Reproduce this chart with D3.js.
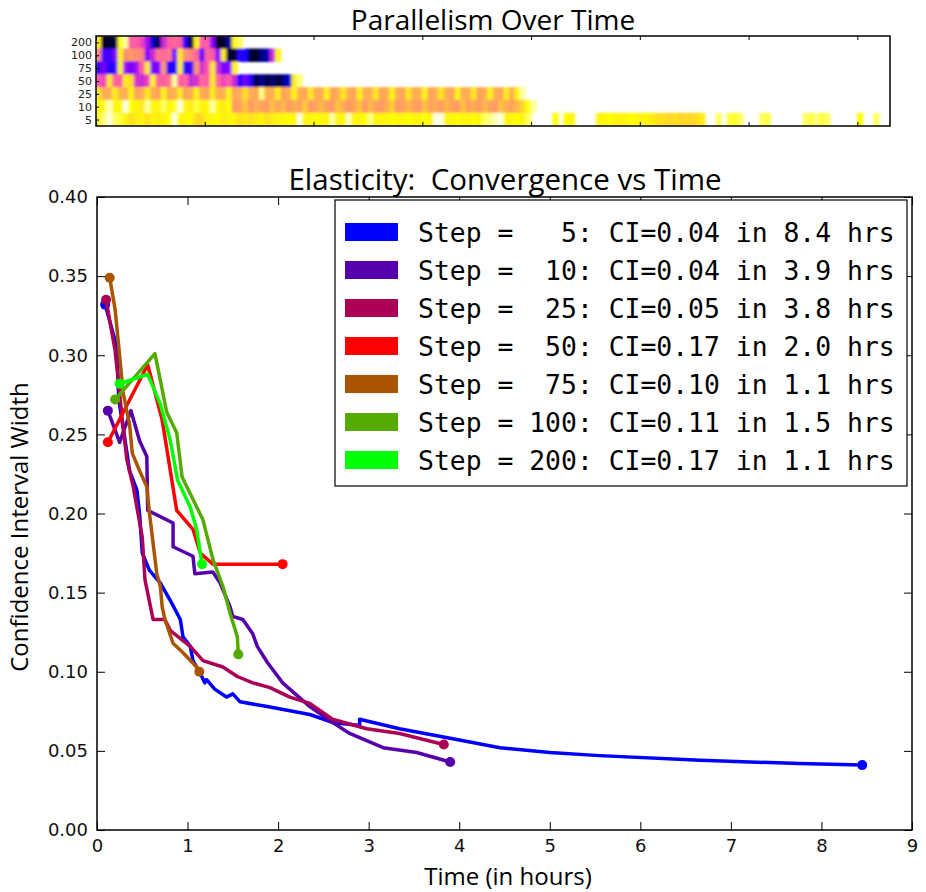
<!DOCTYPE html>
<html>
<head>
<meta charset="utf-8">
<style>
body { margin: 0; background: #fff; }
svg { display: block; }
.tick text { font-family: "DejaVu Sans", sans-serif; }
</style>
</head>
<body>
<svg id="chart" width="926" height="892"></svg>
<script src="https://d3js.org/d3.v7.min.js"></script>
<script>
'use strict';

// ---- legend / series info ----
var steps = [5, 10, 25, 50, 75, 100, 200];
var finalCI = [0.04, 0.04, 0.05, 0.17, 0.10, 0.11, 0.17];
var finalHours = [8.4, 3.9, 3.8, 2.0, 1.1, 1.5, 1.1];
var colors = ["#0000ff", "#5500aa", "#aa0055", "#ff0000", "#aa5500", "#55aa00", "#00ff00"];

// ---- convergence curves: [hours, CI width] ----
var step5 = [[0.09,0.332],[0.22,0.305],[0.24,0.272],[0.30,0.250],[0.36,0.227],[0.44,0.215],[0.47,0.200],[0.50,0.175],
  [0.58,0.164],[0.70,0.156],[0.81,0.145],[0.92,0.133],[0.95,0.122],[1.03,0.116],[1.06,0.107],[1.14,0.099],[1.19,0.093],
  [1.21,0.095],[1.30,0.089],[1.43,0.084],[1.50,0.086],[1.58,0.081],[1.88,0.078],[2.16,0.075],[2.35,0.073],[2.60,0.068],
  [2.90,0.066],[2.90,0.070],[3.34,0.064],[3.90,0.058],[4.45,0.052],[5.00,0.049],[5.55,0.047],[6.66,0.044],[7.76,0.042],[8.45,0.041]];
var step10 = [[0.12,0.265],[0.25,0.245],[0.375,0.265],[0.47,0.246],[0.55,0.236],[0.56,0.202],[0.84,0.194],[0.84,0.179],
  [1.06,0.173],[1.08,0.162],[1.28,0.163],[1.36,0.156],[1.47,0.141],[1.50,0.135],[1.61,0.133],[1.72,0.124],[1.77,0.116],
  [1.88,0.106],[2.05,0.093],[2.35,0.078],[2.60,0.068],[2.79,0.061],[3.16,0.052],[3.53,0.049],[3.90,0.043]];
var step25 = [[0.10,0.335],[0.20,0.303],[0.28,0.259],[0.33,0.234],[0.40,0.217],[0.50,0.185],[0.53,0.158],[0.62,0.133],
  [0.75,0.133],[0.81,0.126],[1.03,0.116],[1.17,0.107],[1.39,0.103],[1.55,0.097],[1.72,0.093],[1.91,0.090],[2.13,0.084],
  [2.35,0.080],[2.60,0.070],[2.98,0.064],[3.34,0.061],[3.83,0.054]];
var step50 = [[0.12,0.245],[0.56,0.294],[0.72,0.259],[0.88,0.202],[1.06,0.190],[1.14,0.175],[1.28,0.168],[2.05,0.168]];
var step75 = [[0.14,0.349],[0.20,0.329],[0.29,0.276],[0.36,0.256],[0.39,0.238],[0.47,0.227],[0.55,0.217],[0.58,0.200],
  [0.66,0.162],[0.70,0.154],[0.72,0.141],[0.75,0.133],[0.84,0.118],[0.95,0.112],[1.10,0.103],[1.13,0.100]];
var step100 = [[0.20,0.272],[0.64,0.301],[0.77,0.264],[0.88,0.251],[0.94,0.223],[1.17,0.196],[1.28,0.171],[1.39,0.154],
  [1.47,0.137],[1.55,0.122],[1.56,0.111]];
var step200 = [[0.25,0.282],[0.56,0.288],[0.70,0.269],[0.81,0.246],[0.89,0.221],[1.03,0.204],[1.10,0.190],[1.16,0.168]];
var curves = [step5, step10, step25, step50, step75, step100, step200];

var xTicks = [0, 1, 2, 3, 4, 5, 6, 7, 8, 9];
var yTicks = [0, 0.05, 0.10, 0.15, 0.20, 0.25, 0.30, 0.35, 0.40];

// ---- parallelism heatmap rows (normalised value per time slot, null = idle) ----
var heatRows = ["200", "100", "75", "50", "25", "10", "5"];
var par200 = [0.88,0.04,0.04,0.06,0.93,0.97,0.6,0.6,0.55,0.45,0.2,0.1,0.5,0.6,0.62,0.6,0.3,0.06,0.9,0.6,0.6,0.42,0.04,0.04,0.15,0.9,0.95];
var par100 = [0.68,0.35,0.32,0.4,0.9,0.7,0.72,0.7,0.68,0.42,0.5,0.65,0.62,0.66,0.4,0.88,0.7,0.68,0.62,0.38,0.62,0.6,0.42,0.88,
  0.06,0.04,0.3,0.28,0.05,0.04,0.12,0.18,0.5,0.9];
var par75 = [0.3,0.4,0.3,0.32,0.9,0.45,0.4,0.45,0.6,0.88,0.4,0.42,0.72,0.3,0.3,0.9,0.3,0.32,0.72,0.52,0.58,0.88,0.5,0.4,0.42,0.9];
var par50 = [0.58,0.55,0.88,0.62,0.6,0.88,0.85,0.52,0.5,0.55,0.9,0.62,0.6,0.65,0.97,0.6,0.62,0.5,0.52,0.62,0.6,0.88,0.62,0.55,
  0.6,0.5,0.3,0.4,0.3,0.05,0.15,0.06,0.12,0.05,0.14,0.2,0.9,0.96];
var par25 = [0.86,0.76,0.76,0.88,0.78,0.76,0.9,0.74,0.76,0.88,0.76,0.74,0.9,0.76,0.76,0.88,0.74,0.76,0.9,0.76,0.74,0.88,0.76,0.76,
  0.9,0.74,0.76,0.86,0.76,0.74,0.96,0.76,0.76,0.88,0.74,0.76,0.9,0.76,0.74,0.88,0.76,0.76,0.9,0.74,0.76,0.88,0.76,0.74,0.9,
  0.76,0.76,0.88,0.74,0.76,0.9,0.76,0.74,0.88,0.76,0.76,0.9,0.74,0.76,0.88,0.76,0.74,0.9,0.76,0.76,0.88,0.74,0.76,0.9,0.76,
  0.74,0.88,0.76,0.9,0.97];
var par10 = [0.9,0.93,0.98,0.9,0.9,0.99,0.92,0.9,0.88,0.97,0.9,0.9,0.95,0.9,0.93,0.99,0.9,0.88,0.94,0.9,0.9,0.97,0.9,0.88,0.92,
  0.72,0.74,0.8,0.72,0.76,0.74,0.72,0.8,0.74,0.78,0.72,0.76,0.74,0.82,0.72,0.74,0.78,0.74,0.72,0.8,0.76,0.72,0.74,0.8,0.72,
  0.78,0.74,0.72,0.76,0.82,0.72,0.74,0.78,0.74,0.72,0.8,0.74,0.76,0.72,0.78,0.74,0.72,0.8,0.74,0.76,0.72,0.78,0.74,0.72,0.8,
  0.76,0.74,0.78,0.84,0.92,0.97];
var par5 = [0.9,0.96,0.99,0.95,0.94,0.9,0.86,0.88,0.9,0.86,0.9,0.88,0.9,0.92,0.99,0.9,0.9,0.92,0.84,0.85,0.9,0.9,0.92,0.88,
  0.9,0.9,0.86,0.88,0.86,0.88,0.9,0.86,0.88,0.9,0.9,0.92,0.9,0.99,0.9,0.9,0.92,0.9,0.9,0.97,0.9,0.9,0.98,0.9,0.9,0.92,0.96,
  0.9,0.9,0.9,0.92,0.9,0.9,0.92,0.9,0.9,0.92,0.9,0.99,0.99,0.9,0.9,0.92,0.9,0.9,0.92,0.9,0.95,0.96,0.98,0.99,0.9,0.9,0.92,
  0.9,0.95,null,null,null,null,0.92,null,0.92,0.9,null,null,null,null,0.9,0.9,0.92,0.9,0.9,0.9,0.92,0.9,0.9,0.9,0.88,0.86,
  0.86,0.84,0.86,0.84,0.85,0.84,0.86,0.88,null,null,0.95,null,0.94,0.93,0.95,null,null,null,0.95,0.94,null,null,null,null,
  null,null,0.95,0.94,0.96,0.94,0.95,null,null,null,null,null,0.92,null,null,0.95,null];
var heatValues = [par200, par100, par75, par50, par25, par10, par5];
var heatSlots = 146;

// matplotlib gnuplot2 colormap
function gnuplot2(v) {
  var r = Math.max(0, Math.min(1, v / 0.32 - 0.78125));
  var g = Math.max(0, Math.min(1, 2 * v - 0.84));
  var b = v < 0.25 ? 4 * v : v < 0.42 ? 1 : v < 0.92 ? -2 * v + 1.84 : v / 0.08 - 11.5;
  b = Math.max(0, Math.min(1, b));
  return d3.rgb(r * 255, g * 255, b * 255).toString();
}

var svg = d3.select("#chart");

// ================= top: parallelism heatmap =================
var hx = d3.scaleLinear().domain([0, heatSlots]).range([96, 890]);
var hy = d3.scaleBand().domain(heatRows).range([36, 126]);

var defs = svg.append("defs");
defs.append("clipPath").attr("id", "heatclip")
  .append("rect").attr("x", 96).attr("y", 36).attr("width", 794).attr("height", 90);
defs.append("filter").attr("id", "soft")
  .append("feGaussianBlur").attr("stdDeviation", "1.4 0.8");

var heat = svg.append("g").attr("clip-path", "url(#heatclip)")
  .append("g").attr("filter", "url(#soft)");

heatValues.forEach(function(row, r) {
  heat.selectAll(null)
    .data(row.map(function(v, i) { return {i: i, v: v}; }).filter(function(d) { return d.v !== null; }))
    .enter().append("rect")
      .attr("x", function(d) { return hx(d.i) - 0.3; })
      .attr("y", hy(heatRows[r]) - 0.3)
      .attr("width", hx(1) - hx(0) + 0.6)
      .attr("height", hy.bandwidth() + 0.6)
      .attr("fill", function(d) { return gnuplot2(d.v); });
});

svg.append("g")
  .attr("transform", "translate(0,126)")
  .call(d3.axisBottom(hx).tickValues(d3.range(0, heatSlots, 20)).tickSizeInner(-4).tickSizeOuter(0).tickFormat(""))
  .call(function(g) { g.select(".domain").remove(); });
svg.append("g")
  .attr("transform", "translate(0,36)")
  .call(d3.axisTop(hx).tickValues(d3.range(0, heatSlots, 20)).tickSizeInner(-4).tickSizeOuter(0).tickFormat(""))
  .call(function(g) { g.select(".domain").remove(); });

var hyAxis = svg.append("g")
  .attr("transform", "translate(96,0)")
  .call(d3.axisLeft(d3.scalePoint().domain(heatRows).range([hy("200") + hy.bandwidth() / 2, hy("5") + hy.bandwidth() / 2]))
    .tickSizeInner(-3).tickSizeOuter(0).tickPadding(4));
hyAxis.select(".domain").remove();
hyAxis.selectAll("text").attr("font-size", 11).attr("fill", "#222");

svg.append("rect")
  .attr("x", 96).attr("y", 36).attr("width", 794).attr("height", 90)
  .attr("fill", "none").attr("stroke", "#000").attr("stroke-width", 1.5);

svg.append("text")
  .attr("x", 493).attr("y", 30)
  .attr("text-anchor", "middle")
  .attr("font-family", "Open Sans, sans-serif")
  .attr("font-size", 28)
  .text("Parallelism Over Time");

// ================= main: convergence chart =================
var margin = {top: 197, left: 97, right: 912, bottom: 830};
var x = d3.scaleLinear().domain([0, 9]).range([margin.left, margin.right]);
var y = d3.scaleLinear().domain([0, 0.4]).range([margin.bottom, margin.top]);

function ax(g) { g.select(".domain").remove(); g.selectAll("line").attr("stroke", "#000"); }

svg.append("g").attr("transform", "translate(0," + margin.bottom + ")")
  .call(d3.axisBottom(x).tickValues(xTicks).tickSizeInner(-8).tickSizeOuter(0).tickPadding(9).tickFormat(d3.format("d")))
  .call(ax)
  .selectAll("text").attr("font-size", 18).attr("fill", "#111");
svg.append("g").attr("transform", "translate(0," + margin.top + ")")
  .call(d3.axisTop(x).tickValues(xTicks).tickSizeInner(-8).tickSizeOuter(0).tickFormat(""))
  .call(ax);
svg.append("g").attr("transform", "translate(" + margin.left + ",0)")
  .call(d3.axisLeft(y).tickValues(yTicks).tickSizeInner(-8).tickSizeOuter(0).tickPadding(9).tickFormat(d3.format(".2f")))
  .call(ax)
  .selectAll("text").attr("font-size", 18).attr("fill", "#111");
svg.append("g").attr("transform", "translate(" + margin.right + ",0)")
  .call(d3.axisRight(y).tickValues(yTicks).tickSizeInner(-8).tickSizeOuter(0).tickFormat(""))
  .call(ax);

var line = d3.line()
  .x(function(d) { return x(d[0]); })
  .y(function(d) { return y(d[1]); });

var series = svg.append("g").selectAll("g")
  .data(curves)
  .enter().append("g");

series.append("path")
  .attr("d", line)
  .attr("fill", "none")
  .attr("stroke", function(d, i) { return colors[i]; })
  .attr("stroke-width", 3.5)
  .attr("stroke-linejoin", "round");

series.selectAll("circle")
  .data(function(d, i) { return [d[0], d[d.length - 1]].map(function(p) { return {p: p, c: colors[i]}; }); })
  .enter().append("circle")
    .attr("cx", function(d) { return x(d.p[0]); })
    .attr("cy", function(d) { return y(d.p[1]); })
    .attr("r", 5)
    .attr("fill", function(d) { return d.c; });

svg.append("rect")
  .attr("x", margin.left).attr("y", margin.top)
  .attr("width", margin.right - margin.left).attr("height", margin.bottom - margin.top)
  .attr("fill", "none").attr("stroke", "#000").attr("stroke-width", 1.5);

// legend
var legend = svg.append("g");
legend.append("rect")
  .attr("x", 335).attr("y", 200).attr("width", 572).attr("height", 286)
  .attr("fill", "#fff").attr("stroke", "#000").attr("stroke-width", 1.2);

var item = legend.selectAll("g")
  .data(steps)
  .enter().append("g")
    .attr("transform", function(d, i) { return "translate(0," + (232 + i * 38) + ")"; });

item.append("rect")
  .attr("x", 345).attr("y", -9).attr("width", 53).attr("height", 18)
  .attr("fill", function(d, i) { return colors[i]; });

item.append("text")
  .attr("x", 418).attr("dy", "0.36em")
  .attr("font-family", "DejaVu Sans Mono, monospace")
  .attr("font-size", 26.4)
  .style("white-space", "pre")
  .text(function(d, i) {
    var s = ("   " + d).slice(-3);
    return "Step = " + s + ": CI=" + finalCI[i].toFixed(2) + " in " + finalHours[i].toFixed(1) + " hrs";
  });

// titles and axis labels
svg.append("text")
  .attr("x", 505).attr("y", 190)
  .attr("text-anchor", "middle")
  .attr("font-family", "Open Sans, sans-serif")
  .attr("font-size", 29.5)
  .style("white-space", "pre")
  .text("Elasticity:  Convergence vs Time");

svg.append("text")
  .attr("x", 508).attr("y", 885)
  .attr("text-anchor", "middle")
  .attr("font-family", "Open Sans, sans-serif")
  .attr("font-size", 24)
  .text("Time (in hours)");

svg.append("text")
  .attr("transform", "translate(28,527) rotate(-90)")
  .attr("text-anchor", "middle")
  .attr("font-family", "Open Sans, sans-serif")
  .attr("font-size", 24)
  .text("Confidence Interval Width");
</script>
</body>
</html>
